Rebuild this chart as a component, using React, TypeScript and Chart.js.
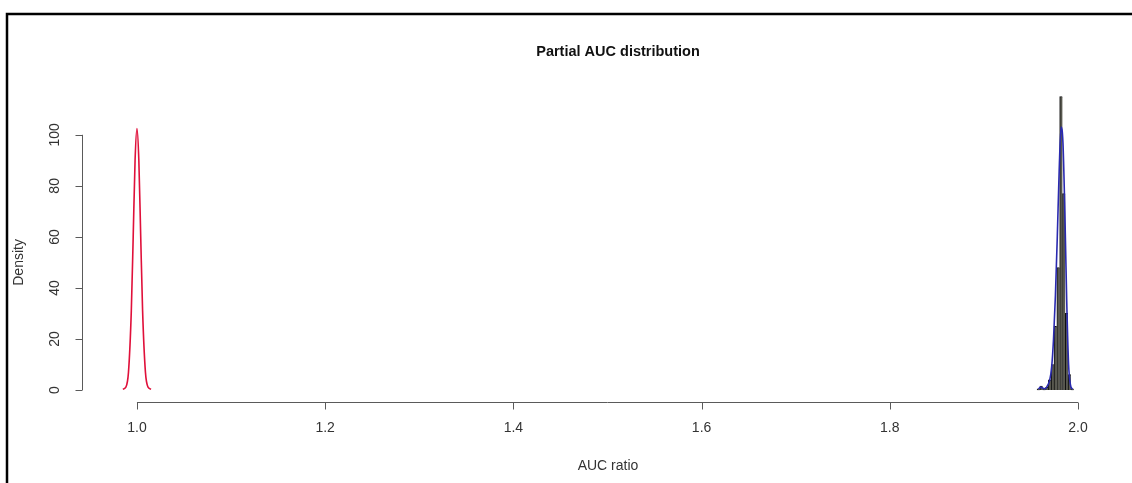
import React, { useEffect, useRef } from "react";
import { Chart, registerables } from "chart.js";

Chart.register(...registerables);

// Histogram of the bootstrap AUC ratios (bin centres, densities)
const histCenters = [1.958, 1.961, 1.964, 1.967, 1.970, 1.973, 1.976, 1.979, 1.982, 1.985, 1.988, 1.991, 1.994];
const histDensity = [0.5, 1.5, 0.5, 1, 4, 10, 25, 48, 115, 77, 30, 6, 0.5];

// Density curve of the bootstrap distribution (blue)
const blueX = [1.958, 1.96, 1.962, 1.965, 1.968, 1.97, 1.972, 1.974, 1.976, 1.978, 1.98, 1.982, 1.984, 1.986, 1.988, 1.99, 1.992, 1.994];
const blueY = [0.3, 1.2, 0.8, 0.5, 2, 4, 9, 20, 37, 60, 86, 103, 97, 70, 35, 10, 2, 0.3];

// Null distribution density curve (red)
const redX = [0.985, 0.988, 0.991, 0.994, 0.996, 0.998, 1.0, 1.002, 1.004, 1.006, 1.009, 1.012, 1.015];
const redY = [0.3, 1, 7, 31, 60, 90, 102.5, 90, 60, 31, 7, 1, 0.3];

const xTicks = [1.0, 1.2, 1.4, 1.6, 1.8, 2.0];
const xTickLabels = ["1.0", "1.2", "1.4", "1.6", "1.8", "2.0"];
const yTicks = [0, 20, 40, 60, 80, 100];
const yTickLabels = ["0", "20", "40", "60", "80", "100"];

const titleText = "Partial AUC distribution";
const xLabel = "AUC ratio";
const yLabel = "Density";

const W = 1132;
const H = 483;

const rAxesPlugin = {
  id: "rAxes",
  afterDraw(chart: any) {
    const ctx = chart.ctx as CanvasRenderingContext2D;
    const xs = chart.scales.x;
    const ys = chart.scales.y;
    const area = chart.chartArea;
    ctx.save();
    // frame border
    ctx.strokeStyle = "#000";
    ctx.lineWidth = 2.5;
    ctx.beginPath();
    ctx.moveTo(7, H + 5);
    ctx.lineTo(7, 14);
    ctx.lineTo(W + 5, 14);
    ctx.stroke();

    const axisColor = "#5a5a5a";
    const tickLen = 7;
    ctx.strokeStyle = axisColor;
    ctx.lineWidth = 1;
    // x axis
    const yAxisPix = Math.round(area.bottom) + 0.5;
    const x0 = xs.getPixelForValue(xTicks[0]);
    const x1 = xs.getPixelForValue(xTicks[xTicks.length - 1]);
    ctx.beginPath();
    ctx.moveTo(x0, yAxisPix);
    ctx.lineTo(x1, yAxisPix);
    xTicks.forEach((v) => {
      const p = Math.round(xs.getPixelForValue(v)) + 0.5;
      ctx.moveTo(p, yAxisPix);
      ctx.lineTo(p, yAxisPix + tickLen);
    });
    ctx.stroke();
    // y axis
    const xAxisPix = Math.round(area.left) + 0.5;
    const yb = ys.getPixelForValue(yTicks[0]);
    const yt = ys.getPixelForValue(yTicks[yTicks.length - 1]);
    ctx.beginPath();
    ctx.moveTo(xAxisPix, yb);
    ctx.lineTo(xAxisPix, yt);
    yTicks.forEach((v) => {
      const p = Math.round(ys.getPixelForValue(v)) + 0.5;
      ctx.moveTo(xAxisPix, p);
      ctx.lineTo(xAxisPix - tickLen, p);
    });
    ctx.stroke();

    // tick labels
    ctx.fillStyle = "#333";
    ctx.font = "14px 'Liberation Sans', Arial, sans-serif";
    ctx.textAlign = "center";
    ctx.textBaseline = "middle";
    xTicks.forEach((v, i) => {
      ctx.fillText(xTickLabels[i], xs.getPixelForValue(v), yAxisPix + 26);
    });
    yTicks.forEach((v, i) => {
      ctx.save();
      ctx.translate(xAxisPix - 27, ys.getPixelForValue(v));
      ctx.rotate(-Math.PI / 2);
      ctx.fillText(yTickLabels[i], 0, 0);
      ctx.restore();
    });

    // axis titles
    ctx.fillText(xLabel, (area.left + area.right) / 2 + 12, 466);
    ctx.save();
    ctx.translate(19, (yb + yt) / 2);
    ctx.rotate(-Math.PI / 2);
    ctx.fillText(yLabel, 0, 0);
    ctx.restore();

    // main title
    ctx.fillStyle = "#111";
    ctx.font = "bold 14.5px 'Liberation Sans', Arial, sans-serif";
    ctx.fillText(titleText, (area.left + area.right) / 2 + 22, 52);
    ctx.restore();
  },
};

export default function App() {
  const ref = useRef<HTMLCanvasElement | null>(null);

  useEffect(() => {
    document.body.style.margin = "0";
    const canvas = ref.current;
    if (!canvas) return;
    const chart = new Chart(canvas, {
      type: "scatter",
      data: {
        datasets: [
          {
            type: "line",
            label: "bootstrap density",
            data: blueX.map((x, i) => ({ x, y: blueY[i] })),
            borderColor: "#2a2ab0",
            borderWidth: 1.6,
            pointRadius: 0,
            fill: false,
            cubicInterpolationMode: "monotone",
            order: 0,
          } as any,
          {
            type: "line",
            label: "null density",
            data: redX.map((x, i) => ({ x, y: redY[i] })),
            borderColor: "#e0103a",
            borderWidth: 1.6,
            pointRadius: 0,
            fill: false,
            cubicInterpolationMode: "monotone",
            order: 1,
          } as any,
          {
            type: "bar",
            label: "histogram",
            data: histCenters.map((x, i) => ({ x, y: histDensity[i] })),
            backgroundColor: "#58584f",
            borderColor: "#111",
            borderWidth: { left: 1, top: 1, right: 0, bottom: 0 },
            borderSkipped: false,
            barPercentage: 1,
            categoryPercentage: 1,
            order: 2,
          } as any,
        ],
      },
      options: {
        animation: false,
        responsive: false,
        maintainAspectRatio: false,
        layout: { padding: { left: 82, right: 22, top: 83, bottom: 81 } },
        plugins: {
          legend: { display: false },
          title: { display: false },
          tooltip: { enabled: false },
        },
        scales: {
          x: { type: "linear", min: 0.9416, max: 2.034, display: false, offset: false, grid: { offset: false } },
          y: { type: "linear", min: -4.7, max: 120.3, display: false },
        },
      },
      plugins: [rAxesPlugin],
    });
    return () => chart.destroy();
  }, []);

  return (
    <div style={{ position: "relative", width: W, height: H, background: "#fff" }}>
      <canvas ref={ref} width={W} height={H} style={{ display: "block", width: W, height: H }} />
    </div>
  );
}
